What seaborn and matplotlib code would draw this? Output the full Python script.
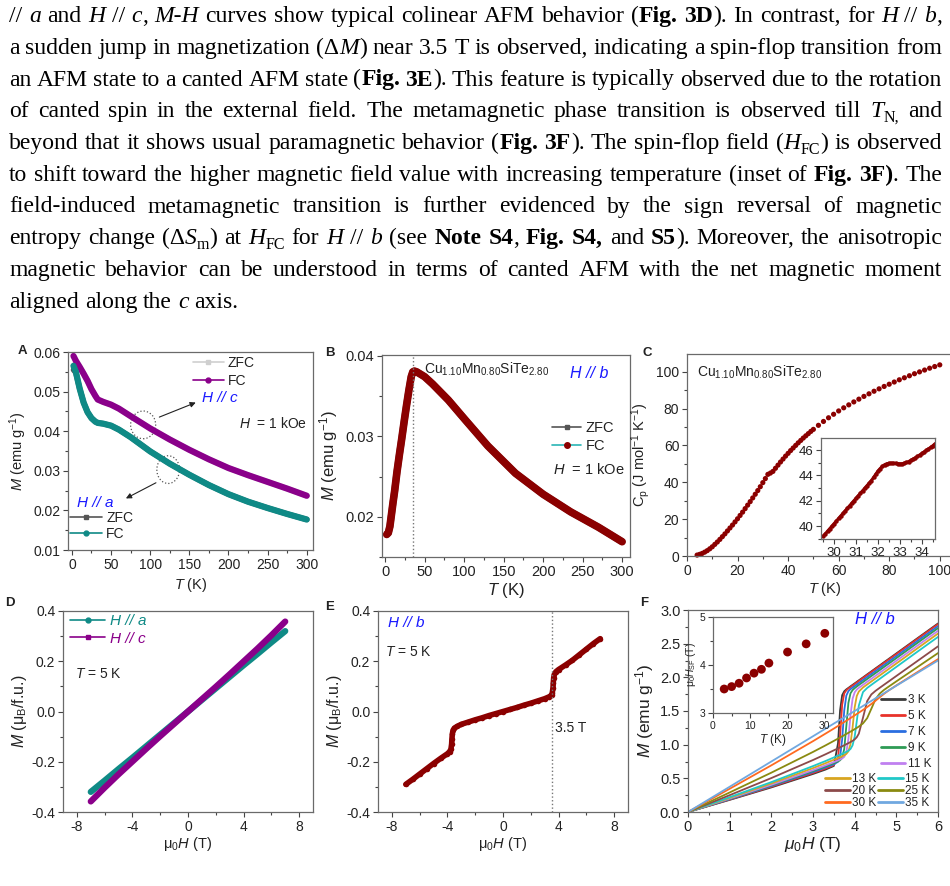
import matplotlib
matplotlib.use("Agg")
import matplotlib.pyplot as plt
import seaborn as sns
import numpy as np
import pandas as pd
from matplotlib.lines import Line2D
from matplotlib.patches import Ellipse
from matplotlib.ticker import MultipleLocator

# === DATA ===

# A: M(T) for H // c and H // a (ZFC / FC)
T_A = [2, 5, 10, 15, 20, 25, 30, 33, 40, 50, 60, 75, 100, 125, 150, 175, 200, 225, 250, 275, 300]
M_c_fc = [0.0590, 0.0578, 0.0562, 0.0545, 0.0527, 0.0506, 0.0489, 0.0480, 0.0474, 0.0467, 0.0457,
          0.0438, 0.0407, 0.0379, 0.0353, 0.0329, 0.0307, 0.0289, 0.0272, 0.0255, 0.0237]
M_c_zfc = [0.0565, 0.0572, 0.0561, 0.0545, 0.0527, 0.0506, 0.0489, 0.0480, 0.0474, 0.0467, 0.0457,
           0.0438, 0.0407, 0.0379, 0.0353, 0.0329, 0.0307, 0.0289, 0.0272, 0.0255, 0.0237]
M_a_fc = [0.0565, 0.0550, 0.0507, 0.0472, 0.0448, 0.0433, 0.0424, 0.0421, 0.0419, 0.0414, 0.0404,
          0.0385, 0.0349, 0.0318, 0.0290, 0.0264, 0.0241, 0.0222, 0.0206, 0.0191, 0.0177]
M_a_zfc = [0.0555, 0.0548, 0.0507, 0.0472, 0.0448, 0.0433, 0.0424, 0.0421, 0.0419, 0.0414, 0.0404,
           0.0385, 0.0349, 0.0318, 0.0290, 0.0264, 0.0241, 0.0222, 0.0206, 0.0191, 0.0177]

# B: M(T) for H // b
T_B = [2, 4, 6, 8, 10, 12, 15, 18, 21, 24, 27, 30, 33, 35, 37, 40, 50, 60, 80, 100, 130, 165, 200, 235, 270, 300]
M_B = [0.0178, 0.0180, 0.0188, 0.0203, 0.0218, 0.0232, 0.0256, 0.0277, 0.0297, 0.0318, 0.0338, 0.0357,
       0.0374, 0.0380, 0.0381, 0.0380, 0.0374, 0.0365, 0.0345, 0.0322, 0.0288, 0.0254, 0.0228, 0.0206,
       0.0187, 0.0169]

# C: heat capacity
T_C = [4, 5, 6, 7, 8, 9, 10, 11, 12, 13, 14, 15, 16, 17, 18, 19, 20, 21, 22, 23, 24, 25, 26, 27, 28, 29,
       30, 31, 32, 33, 34, 35, 36, 37, 38, 39, 40, 41, 42, 43, 44, 45, 46, 47, 48, 49, 50,
       52, 54, 56, 58, 60, 62, 64, 66, 68, 70, 72, 74, 76, 78, 80, 82, 84, 86, 88, 90, 92, 94, 96, 98, 100]
Cp_C = [0.5, 0.9, 1.4, 2.1, 2.9, 3.9, 5.0, 6.3, 7.6, 9.0, 10.5, 12.0, 13.6, 15.2, 16.8, 18.5, 20.2, 22.0,
        23.8, 25.7, 27.6, 29.5, 31.5, 33.5, 35.5, 37.6, 39.8, 42.0, 44.3, 45.0, 45.9, 47.6, 49.3, 51.0,
        52.6, 54.2, 55.7, 57.2, 58.6, 60.0, 61.4, 62.7, 64.0, 65.2, 66.4, 67.6, 68.7,
        70.9, 73.0, 75.0, 76.9, 78.7, 80.4, 82.0, 83.6, 85.1, 86.6, 88.0, 89.4, 90.7, 92.0, 93.2, 94.4,
        95.6, 96.7, 97.8, 98.9, 99.9, 100.9, 101.9, 102.8, 103.7]
T_C_in = [29.5, 29.6, 29.7, 29.8, 29.9, 30.0, 30.1, 30.2, 30.3, 30.4, 30.5, 30.6, 30.7, 30.8, 30.9,
          31.0, 31.1, 31.2, 31.3, 31.4, 31.5, 31.6, 31.7, 31.8, 31.9, 32.0, 32.1, 32.2, 32.3, 32.4,
          32.5, 32.6, 32.7, 32.8, 32.9, 33.0, 33.1, 33.2, 33.3, 33.4, 33.5, 33.6, 33.7, 33.8, 33.9,
          34.0, 34.1, 34.2, 34.3, 34.4, 34.5, 34.6]
Cp_C_in = [39.2, 39.4, 39.6, 39.8, 40.0, 40.2, 40.4, 40.6, 40.8, 41.0, 41.2, 41.4, 41.6, 41.8, 42.0,
           42.2, 42.4, 42.6, 42.8, 43.0, 43.2, 43.4, 43.6, 43.85, 44.1, 44.35, 44.55, 44.72, 44.85, 44.93,
           44.96, 44.97, 44.97, 44.96, 44.94, 44.92, 44.93, 44.97, 45.03, 45.1, 45.2, 45.3, 45.4, 45.5,
           45.62, 45.74, 45.86, 45.98, 46.1, 46.22, 46.35, 46.5]

# D: M(H) at 5 K, H // a and H // c
H_D = [-7, -6, -5, -4, -3, -2, -1, 0, 1, 2, 3, 4, 5, 6, 7]
M_a_D = [-0.320, -0.275, -0.229, -0.184, -0.138, -0.092, -0.046, 0, 0.046, 0.092, 0.138, 0.184, 0.229, 0.275, 0.320]
M_c_D = [-0.358, -0.303, -0.250, -0.199, -0.148, -0.098, -0.049, 0, 0.049, 0.098, 0.148, 0.199, 0.250, 0.303, 0.358]

# E: M(H) at 5 K, H // b
H_E = [-7, -6.5, -6, -5.5, -5, -4.5, -4.0, -3.85, -3.75, -3.7, -3.68, -3.65, -3.6, -3.5, -3.3, -3, -2.5,
       -2, -1.5, -1, -0.5, 0, 0.5, 1, 1.5, 2, 2.5, 3, 3.3, 3.5, 3.55, 3.6, 3.62, 3.65, 3.7, 3.8, 4.0,
       4.5, 5, 5.5, 6, 6.5, 7]
M_E = [-0.290, -0.270, -0.249, -0.228, -0.207, -0.187, -0.168, -0.160, -0.150, -0.130, -0.110, -0.090,
       -0.075, -0.066, -0.059, -0.051, -0.042, -0.033, -0.025, -0.016, -0.008, 0, 0.008, 0.016, 0.025,
       0.033, 0.042, 0.051, 0.058, 0.065, 0.075, 0.095, 0.115, 0.135, 0.148, 0.158, 0.167, 0.185, 0.204,
       0.226, 0.248, 0.270, 0.290]

# F: M(H) at several temperatures, H // b
H_F = [0, 1, 2, 3, 3.3, 3.5, 3.6, 3.65, 3.7, 3.75, 3.8, 3.85, 3.9, 3.95, 4.0, 4.05, 4.1, 4.2, 4.3, 4.4,
       4.5, 4.6, 4.7, 4.8, 5.0, 5.5, 6.0]
M_3K = [0, 0.180, 0.365, 0.565, 0.630, 0.684, 1.019, 1.512, 1.735, 1.793, 1.821, 1.843, 1.866, 1.888,
        1.910, 1.932, 1.955, 1.999, 2.044, 2.088, 2.133, 2.177, 2.222, 2.266, 2.355, 2.578, 2.800]
M_5K = [0, 0.185, 0.375, 0.579, 0.646, 0.695, 0.800, 1.136, 1.594, 1.761, 1.807, 1.834, 1.856, 1.878,
        1.900, 1.923, 1.946, 1.990, 2.035, 2.079, 2.123, 2.167, 2.212, 2.256, 2.345, 2.568, 2.790]
M_7K = [0, 0.190, 0.385, 0.594, 0.662, 0.709, 0.746, 0.817, 1.077, 1.510, 1.729, 1.795, 1.825, 1.848,
        1.870, 1.893, 1.916, 1.960, 2.005, 2.049, 2.093, 2.137, 2.182, 2.226, 2.315, 2.538, 2.760]
M_9K = [0, 0.195, 0.395, 0.608, 0.677, 0.725, 0.751, 0.768, 0.807, 0.937, 1.276, 1.621, 1.763, 1.811,
        1.839, 1.863, 1.886, 1.930, 1.975, 2.019, 2.063, 2.107, 2.152, 2.196, 2.285, 2.508, 2.730]
M_11K = [0, 0.200, 0.404, 0.622, 0.693, 0.741, 0.766, 0.780, 0.795, 0.820, 0.887, 1.087, 1.436, 1.682,
         1.777, 1.818, 1.844, 1.889, 1.934, 1.978, 2.023, 2.067, 2.112, 2.156, 2.245, 2.468, 2.690]
M_13K = [0, 0.210, 0.424, 0.652, 0.725, 0.776, 0.801, 0.815, 0.828, 0.843, 0.863, 0.902, 1.009, 1.257,
         1.554, 1.722, 1.789, 1.849, 1.894, 1.938, 1.983, 2.027, 2.072, 2.116, 2.205, 2.428, 2.650]
M_15K = [0, 0.220, 0.444, 0.682, 0.757, 0.810, 0.837, 0.850, 0.864, 0.877, 0.893, 0.910, 0.936, 0.991,
         1.118, 1.347, 1.581, 1.781, 1.842, 1.888, 1.933, 1.977, 2.022, 2.066, 2.155, 2.378, 2.600]
M_20K = [0, 0.250, 0.504, 0.772, 0.857, 0.916, 0.945, 0.960, 0.976, 0.991, 1.007, 1.022, 1.039, 1.057,
         1.078, 1.110, 1.164, 1.401, 1.647, 1.746, 1.799, 1.844, 1.888, 1.932, 2.020, 2.240, 2.460]
M_25K = [0, 0.290, 0.584, 0.892, 0.989, 1.056, 1.090, 1.107, 1.124, 1.141, 1.159, 1.176, 1.194, 1.212,
         1.230, 1.249, 1.269, 1.316, 1.394, 1.533, 1.675, 1.758, 1.811, 1.855, 1.940, 2.150, 2.360]
M_30K = [0, 0.345, 0.693, 1.052, 1.164, 1.239, 1.278, 1.297, 1.316, 1.336, 1.355, 1.375, 1.395, 1.415,
         1.435, 1.455, 1.475, 1.516, 1.559, 1.604, 1.652, 1.703, 1.753, 1.798, 1.880, 2.075, 2.270]
M_35K = [0, 0.375, 0.750, 1.125, 1.238, 1.313, 1.350, 1.369, 1.388, 1.406, 1.425, 1.444, 1.463, 1.481,
         1.500, 1.519, 1.538, 1.575, 1.613, 1.650, 1.688, 1.725, 1.763, 1.800, 1.875, 2.063, 2.250]
F_labels = ["3 K", "5 K", "7 K", "9 K", "11 K", "13 K", "15 K", "20 K", "25 K", "30 K", "35 K"]
F_curves = [M_3K, M_5K, M_7K, M_9K, M_11K, M_13K, M_15K, M_20K, M_25K, M_30K, M_35K]
F_colors = ["#3a3a3a", "#e8322a", "#2a6ee0", "#2e9b55", "#c080f0", "#d8a520", "#20c8c8",
            "#8c4a4a", "#8a8a10", "#ff6a20", "#70a8e0"]

# F inset: spin-flop field vs T
T_sf = [3, 5, 7, 9, 11, 13, 15, 20, 25, 30]
H_sf = [3.50, 3.55, 3.62, 3.73, 3.83, 3.91, 4.04, 4.27, 4.44, 4.66]

# paragraph above the figure: (text, style) runs, r=roman i=italic b=bold s=subscript
PAR = [
    [("// ", "r"), ("a", "i"), (" and ", "r"), ("H", "i"), (" // ", "r"), ("c", "i"), (", ", "r"), ("M-H", "i"),
     (" curves show typical colinear AFM behavior (", "r"), ("Fig. 3D", "b"), ("). In contrast, for ", "r"),
     ("H", "i"), (" // ", "r"), ("b", "i"), (",", "r")],
    [("a sudden jump in magnetization (Δ", "r"), ("M", "i"),
     (") near 3.5 T is observed, indicating a spin-flop transition from", "r")],
    [("an AFM state to a canted AFM state (", "r"), ("Fig. 3E", "b"),
     ("). This feature is typically observed due to the rotation", "r")],
    [("of canted spin in the external field. The metamagnetic phase transition is observed till ", "r"),
     ("T", "i"), ("N,", "s"), (" and", "r")],
    [("beyond that it shows usual paramagnetic behavior (", "r"), ("Fig. 3F", "b"),
     ("). The spin-flop field (", "r"), ("H", "i"), ("FC", "s"), (") is observed", "r")],
    [("to shift toward the higher magnetic field value with increasing temperature (inset of ", "r"),
     ("Fig. 3F)", "b"), (". The", "r")],
    [("field-induced metamagnetic transition is further evidenced by the sign reversal of magnetic", "r")],
    [("entropy change (Δ", "r"), ("S", "i"), ("m", "s"), (") at ", "r"), ("H", "i"), ("FC", "s"), (" for ", "r"),
     ("H", "i"), (" // ", "r"), ("b", "i"), (" (see ", "r"), ("Note S4", "b"), (", ", "r"), ("Fig. S4,", "b"),
     (" and ", "r"), ("S5", "b"), ("). Moreover, the anisotropic", "r")],
    [("magnetic behavior can be understood in terms of canted AFM with the net magnetic moment", "r")],
    [("aligned along the ", "r"), ("c", "i"), (" axis.", "r")],
]

# === STYLE ===
sns.set_theme(style="ticks")
plt.rcParams["font.family"] = ["Liberation Sans", "DejaVu Sans"]
plt.rcParams["mathtext.fontset"] = "custom"
plt.rcParams["mathtext.rm"] = "Liberation Sans"
plt.rcParams["mathtext.it"] = "Liberation Sans:italic"
plt.rcParams["mathtext.bf"] = "Liberation Sans:bold"
plt.rcParams["axes.unicode_minus"] = False
plt.rcParams["text.color"] = "#222222"
plt.rcParams["axes.labelcolor"] = "#222222"

PURPLE = "#8a008a"
TEAL = "#0f8a86"
DRED = "#8b0000"
BLUE = "#1a1aff"

W, H = 950, 886
fig = plt.figure(figsize=(9.5, 8.86), dpi=100)
renderer = fig.canvas.get_renderer()


def box(x0, y0, x1, y1):
    return [x0 / W, 1 - y1 / H, (x1 - x0) / W, (y1 - y0) / H]


def ftext(x, y, s, **kw):
    return fig.text(x / W, 1 - y / H, s, **kw)


def style_axes(ax, xlim, ylim, xmaj, xmin, ymaj, ymin, fs):
    ax.set_xlim(*xlim)
    ax.set_ylim(*ylim)
    ax.xaxis.set_major_locator(MultipleLocator(xmaj))
    ax.xaxis.set_minor_locator(MultipleLocator(xmin))
    ax.yaxis.set_major_locator(MultipleLocator(ymaj))
    ax.yaxis.set_minor_locator(MultipleLocator(ymin))
    for sp in ax.spines.values():
        sp.set_visible(True)
        sp.set_color("#6a6a6a")
        sp.set_linewidth(0.9)
    ax.tick_params(which="both", direction="out", top=False, right=False, colors="#444444",
                   labelcolor="#222222", labelsize=fs, width=0.8, pad=2)
    ax.tick_params(which="major", length=3.5)
    ax.tick_params(which="minor", length=2)
    ax.set_facecolor("white")


# === PARAGRAPH ===
PAR_FS = 17
X_L, X_R = 9, 942


def para_line(runs, y, justify):
    words = [[]]
    for txt, st in runs:
        for k, part in enumerate(txt.split(" ")):
            if k > 0:
                words.append([])
            if part:
                words[-1].append((part, st))
    words = [w for w in words if w]
    items = []
    total = 0
    for w in words:
        pieces = []
        for part, st in w:
            t = ftext(0, 0, part, fontsize=PAR_FS * 0.68 if st == "s" else PAR_FS,
                      family="Liberation Serif", style="italic" if st == "i" else "normal",
                      weight="bold" if st == "b" else "normal", va="baseline", color="black")
            wd = t.get_window_extent(renderer).width
            pieces.append((t, st, wd))
            total += wd
        items.append(pieces)
    if justify and len(items) > 1:
        gap = (X_R - X_L - total) / (len(items) - 1)
    else:
        gap = PAR_FS * 100 / 72 * 0.25
    x = X_L
    for pieces in items:
        for t, st, wd in pieces:
            dy = PAR_FS * 100 / 72 * 0.2 if st == "s" else 0
            t.set_position((x / W, 1 - (y + dy) / H))
            x += wd
        x += gap


for i, runs in enumerate(PAR):
    para_line(runs, 22 + 31.75 * i, i < len(PAR) - 1)

# === PANEL A ===
ax_a = fig.add_axes(box(68, 352, 313, 550))
sns.lineplot(x=T_A, y=M_c_zfc, ax=ax_a, color="#cfcfcf", lw=4, sort=False)
sns.lineplot(x=T_A, y=M_c_fc, ax=ax_a, color=PURPLE, lw=4.5, sort=False, solid_capstyle="round")
sns.lineplot(x=T_A, y=M_a_zfc, ax=ax_a, color="#555555", lw=4, sort=False)
sns.lineplot(x=T_A, y=M_a_fc, ax=ax_a, color=TEAL, lw=4.5, sort=False, solid_capstyle="round")
style_axes(ax_a, (-5, 308), (0.01, 0.06), 50, 25, 0.01, 0.005, 10)
ax_a.set_xlabel("$T$ (K)", fontsize=10.5, labelpad=3)
ax_a.set_ylabel("$M$ (emu g$^{-1}$)", fontsize=10.5, labelpad=3)
ax_a.add_patch(Ellipse((91, 0.0416), 32, 0.0070, fill=False, ls=":", ec="#555555", lw=0.9))
ax_a.add_patch(Ellipse((123, 0.0303), 29, 0.0070, fill=False, ls=":", ec="#555555", lw=0.9))
ax_a.annotate("", xy=(161.5, 0.0475), xytext=(108.4, 0.0433),
              arrowprops=dict(arrowstyle="-|>", color="#222222", lw=0.8, mutation_scale=8))
ax_a.annotate("", xy=(65.8, 0.0227), xytext=(110.5, 0.0273),
              arrowprops=dict(arrowstyle="-|>", color="#222222", lw=0.8, mutation_scale=8))
ax_a.text(166, 0.0483, "H // c", color=BLUE, style="italic", fontsize=11, va="center")
ax_a.text(214, 0.0420, "$H$  = 1 kOe", fontsize=10, va="center")
ax_a.text(7, 0.0219, "H // a", color=BLUE, style="italic", fontsize=11, va="center")
leg1 = ax_a.legend([Line2D([], [], color="#cfcfcf", marker="s", ms=3.5, lw=1.2),
                    Line2D([], [], color=PURPLE, marker="o", ms=3.5, lw=1.2)], ["ZFC", "FC"],
                   loc="center left", bbox_to_anchor=(193 / W, 1 - 372 / H), bbox_transform=fig.transFigure,
                   frameon=False, fontsize=10, handlelength=2.2, handletextpad=0.3, labelspacing=0.25,
                   borderpad=0, borderaxespad=0)
ax_a.add_artist(leg1)
ax_a.legend([Line2D([], [], color="#555555", marker="s", ms=3.5, lw=1.2),
             Line2D([], [], color=TEAL, marker="o", ms=3.5, lw=1.2)], ["ZFC", "FC"],
            loc="center left", bbox_to_anchor=(70 / W, 1 - 526 / H), bbox_transform=fig.transFigure,
            frameon=False, fontsize=10, handlelength=2.3, handletextpad=0.3, labelspacing=0.12,
            borderpad=0, borderaxespad=0)
ftext(22, 351, "A", fontsize=9.5, weight="bold", va="center", ha="center")

# === PANEL B ===
ax_b = fig.add_axes(box(382, 355, 630, 557))
sns.lineplot(x=T_B, y=M_B, ax=ax_b, color="#555555", lw=5, sort=False)
sns.lineplot(x=T_B, y=M_B, ax=ax_b, color=DRED, lw=5.5, sort=False, solid_capstyle="round")
ax_b.axvline(35, ls=":", color="#777777", lw=1)
style_axes(ax_b, (-4, 310), (0.015, 0.0401), 50, 25, 0.01, 0.005, 10.5)
ax_b.set_xlabel("$T$ (K)", fontsize=12, labelpad=2)
ax_b.set_ylabel("$M$ (emu g$^{-1}$)", fontsize=12, labelpad=4)
ax_b.text(0.17, 0.93, "Cu$_{1.10}$Mn$_{0.80}$SiTe$_{2.80}$", transform=ax_b.transAxes, fontsize=10, va="center")
ax_b.text(0.76, 0.91, "H // b", transform=ax_b.transAxes, color=BLUE, style="italic", fontsize=11.5, va="center")
ax_b.legend([Line2D([], [], color="#555555", marker="s", ms=3.5, lw=1.2),
             Line2D([], [], color="#2ab5b5", marker="o", ms=4, mfc=DRED, mec=DRED, lw=1.2)], ["ZFC", "FC"],
            loc="center left", bbox_to_anchor=(552 / W, 1 - 437 / H), bbox_transform=fig.transFigure,
            frameon=False, fontsize=10.5, handlelength=2.0, handletextpad=0.3, labelspacing=0.25,
            borderpad=0, borderaxespad=0)
ftext(553, 470, "$H$  = 1 kOe", fontsize=10.5, va="center")
ftext(330, 353, "B", fontsize=9.5, weight="bold", va="center", ha="center")

# === PANEL C ===
ax_c = fig.add_axes(box(687, 354, 962, 556))
sns.scatterplot(x=T_C, y=Cp_C, ax=ax_c, color=DRED, s=14, edgecolor="none", clip_on=False)
style_axes(ax_c, (0, 108.8), (0, 109.6), 20, 10, 20, 10, 10)
ax_c.set_xlabel("$T$ (K)", fontsize=10.5, labelpad=2)
ax_c.set_ylabel("C$_{\\rm p}$ (J mol$^{-1}$ K$^{-1}$)", fontsize=10.5, labelpad=3)
ftext(697, 372, "Cu$_{1.10}$Mn$_{0.80}$SiTe$_{2.80}$", fontsize=10, va="center")
ftext(647, 353, "C", fontsize=9.5, weight="bold", va="center", ha="center")

ax_ci = fig.add_axes(box(821, 438, 935, 539))
sns.lineplot(x=T_C_in, y=Cp_C_in, ax=ax_ci, color=DRED, lw=2.2, marker="o", ms=3.2, mew=0, sort=False)
style_axes(ax_ci, (29.4, 34.6), (38.98, 46.96), 1, 0.5, 2, 1, 9.5)
ax_ci.set_xlabel("")
ax_ci.set_ylabel("")

# === PANEL D ===
ax_d = fig.add_axes(box(63, 611, 313, 812))
sns.lineplot(x=H_D, y=M_a_D, ax=ax_d, color=TEAL, lw=4.5, sort=False, solid_capstyle="round")
sns.lineplot(x=H_D, y=M_c_D, ax=ax_d, color=PURPLE, lw=4.5, sort=False, solid_capstyle="round")
style_axes(ax_d, (-9, 9), (-0.4, 0.4), 4, 2, 0.2, 0.1, 10)
ax_d.set_xlabel("μ$_0$$H$ (T)", fontsize=10.5, labelpad=1)
ax_d.set_ylabel("$M$ (μ$_{\\rm B}$/f.u.)", fontsize=11.5, labelpad=2)
ax_d.legend([Line2D([], [], color=TEAL, marker="o", ms=3.5, lw=1.2),
             Line2D([], [], color=PURPLE, marker="s", ms=3.5, lw=1.2)], ["H // a", "H // c"],
            loc="center left", bbox_to_anchor=(70 / W, 1 - 630 / H), bbox_transform=fig.transFigure,
            frameon=False, prop={"size": 11, "style": "italic"}, labelcolor="linecolor",
            handlelength=2.3, handletextpad=0.3, labelspacing=0.2, borderpad=0, borderaxespad=0)
ftext(75, 674, "$T$ = 5 K", fontsize=10, va="center")
ftext(10, 603, "D", fontsize=9.5, weight="bold", va="center", ha="center")

# === PANEL E ===
ax_e = fig.add_axes(box(378, 611, 628, 812))
sns.lineplot(x=H_E, y=M_E, ax=ax_e, color=DRED, lw=4, marker="o", ms=4, mew=0, sort=False,
             solid_capstyle="round")
ax_e.axvline(3.55, ls=":", color="#777777", lw=1)
style_axes(ax_e, (-9, 9), (-0.4, 0.4), 4, 2, 0.2, 0.1, 10)
ax_e.set_xlabel("μ$_0$$H$ (T)", fontsize=10.5, labelpad=1)
ax_e.set_ylabel("$M$ (μ$_{\\rm B}$/f.u.)", fontsize=11.5, labelpad=2)
ftext(388, 623, "H // b", color=BLUE, style="italic", fontsize=11, va="center")
ftext(385, 652, "$T$ = 5 K", fontsize=10, va="center")
ftext(555, 728, "3.5 T", fontsize=10, va="center")
ftext(330, 607, "E", fontsize=9.5, weight="bold", va="center", ha="center")

# === PANEL F ===
ax_f = fig.add_axes(box(688, 610, 938, 812))
df_f = pd.DataFrame({
    "H": H_F * len(F_labels),
    "M": [m for curve in F_curves for m in curve],
    "T": [lab for lab in F_labels for _ in H_F],
})
sns.lineplot(data=df_f, x="H", y="M", hue="T", hue_order=F_labels, palette=F_colors, lw=1.3,
             estimator=None, legend=False, ax=ax_f)
style_axes(ax_f, (0, 6), (0, 3), 1, 0.5, 0.5, 0.25, 10.5)
ax_f.set_xlabel("$\\mu_0H$ (T)", fontsize=12.5, labelpad=1)
ax_f.set_ylabel("$M$ (emu g$^{-1}$)", fontsize=12.5, labelpad=3)
handles = [Line2D([], [], color=c, lw=2) for c in F_colors]
legf1 = ax_f.legend(handles[:5], F_labels[:5], loc="center left",
                    bbox_to_anchor=(881 / W, 1 - 732 / H), bbox_transform=fig.transFigure,
                    frameon=False, fontsize=8.5, handlelength=2.0, handletextpad=0.25, labelspacing=0.35,
                    borderpad=0, borderaxespad=0)
ax_f.add_artist(legf1)
order = [5, 7, 9, 6, 8, 10]
ax_f.legend([handles[k] for k in order], [F_labels[k] for k in order], ncol=2, loc="center left",
            bbox_to_anchor=(825 / W, 1 - 791 / H), bbox_transform=fig.transFigure,
            frameon=False, fontsize=8.5, handlelength=2.1, handletextpad=0.15, labelspacing=0.0,
            columnspacing=0.2, borderpad=0, borderaxespad=0)
ftext(855, 620, "H // b", color=BLUE, style="italic", fontsize=12, va="center")
ftext(644, 603, "F", fontsize=9.5, weight="bold", va="center", ha="center")

ax_fi = fig.add_axes(box(713, 617, 833, 713))
sns.scatterplot(x=T_sf, y=H_sf, ax=ax_fi, color=DRED, s=40, edgecolor="none")
style_axes(ax_fi, (0, 32.2), (3, 5), 10, 5, 1, 0.5, 7.5)
ax_fi.set_xlabel("$T$ (K)", fontsize=8.5, labelpad=1)
ax_fi.set_ylabel("μ$_0$$H_{\\rm SF}$ (T)", fontsize=7.5, labelpad=1)

fig.savefig("out.png", dpi=100)
